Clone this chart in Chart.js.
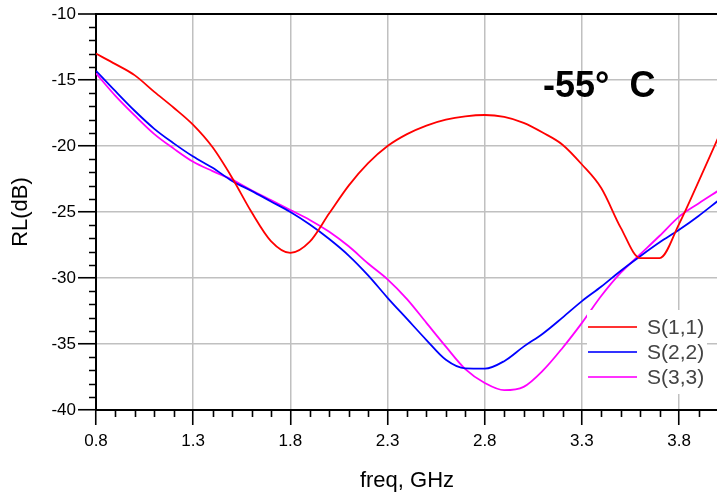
<!DOCTYPE html>
<html>
<head>
<meta charset="utf-8">
<script src="https://cdn.jsdelivr.net/npm/chart.js@4.4.1/dist/chart.umd.min.js"></script>
<style>
    html, body { margin: 0; padding: 0; background: #fff; overflow: hidden; }
    #wrap { width: 717px; height: 497px; overflow: hidden; }
</style>
</head>
<body>
<div id="wrap"><canvas id="rlChart" width="724" height="497"></canvas></div>
<script>
// --- data (freq in GHz, return loss in dB) ---
const freqs = [0.8, 0.9, 1.0, 1.1, 1.2, 1.3, 1.4, 1.5, 1.6, 1.7, 1.8, 1.9, 2.0, 2.1, 2.2, 2.3, 2.4,
               2.5, 2.6, 2.7, 2.8, 2.9, 3.0, 3.1, 3.2, 3.3, 3.4, 3.5, 3.6, 3.7, 3.8, 3.9, 4.0];
const s11 = [-13.0, -13.8, -14.65, -15.9, -17.1, -18.4, -20.1, -22.4, -25.0, -27.2, -28.1, -27.25, -25.1,
             -23.0, -21.3, -20.0, -19.1, -18.45, -18.0, -17.75, -17.65, -17.8, -18.25, -19.0, -19.9,
             -21.4, -23.2, -26.2, -28.5, -28.5, -25.9, -22.7, -19.4];
const s22 = [-14.3, -15.85, -17.35, -18.7, -19.8, -20.8, -21.65, -22.65, -23.4, -24.2, -25.0, -25.95, -27.05,
             -28.3, -29.8, -31.5, -33.1, -34.7, -36.2, -36.85, -36.87, -36.3, -35.2, -34.2, -33.0,
             -31.75, -30.65, -29.45, -28.35, -27.3, -26.35, -25.3, -24.15];
const s33 = [-14.5, -16.2, -17.7, -19.1, -20.2, -21.2, -21.9, -22.55, -23.35, -24.1, -24.85, -25.6, -26.5,
             -27.6, -28.9, -30.1, -31.6, -33.4, -35.2, -36.9, -37.95, -38.5, -38.25, -37.0, -35.3,
             -33.4, -31.35, -29.6, -28.2, -26.8, -25.35, -24.35, -23.4];
const seriesLabels = ['S(1,1)', 'S(2,2)', 'S(3,3)'];
const seriesColors = ['#ff0000', '#0000ff', '#ff00ff'];
const xMajorTicks = [0.8, 1.3, 1.8, 2.3, 2.8, 3.3, 3.8];
const yMajorTicks = [-40, -35, -30, -25, -20, -15, -10];

const FONT = "'Liberation Sans', Arial, sans-serif";

function isMajor(v, list) {
    return list.some(m => Math.abs(m - v) < 1e-6);
}

function points(ys) {
    return freqs.map((f, i) => ({ x: f, y: ys[i] }));
}

// short minor tick marks (Chart.js has one tick length per axis)
const minorTicks = {
    id: 'minorTicks',
    afterDraw(chart) {
        const { ctx, scales: { x, y } } = chart;
        ctx.save();
        ctx.strokeStyle = '#000';
        ctx.lineWidth = 1.6;
        ctx.beginPath();
        x.ticks.forEach(t => {
            if (isMajor(t.value, xMajorTicks)) return;
            const px = Math.round(x.getPixelForValue(t.value)) + 0.5;
            ctx.moveTo(px, x.top);
            ctx.lineTo(px, x.top + 7);
        });
        y.ticks.forEach(t => {
            if (isMajor(t.value, yMajorTicks)) return;
            const py = Math.round(y.getPixelForValue(t.value)) + 0.5;
            ctx.moveTo(y.right, py);
            ctx.lineTo(y.right - 7, py);
        });
        ctx.stroke();
        ctx.restore();
    }
};

// legend box in the lower right corner + temperature label
const overlay = {
    id: 'overlay',
    afterDatasetsDraw(chart) {
        const { ctx, chartArea } = chart;
        ctx.save();
        const bx = chartArea.right - 131;
        const by = chartArea.bottom - 100;
        ctx.fillStyle = '#fff';
        ctx.fillRect(bx, by, 120, 84);
        chart.data.datasets.forEach((ds, i) => {
            const ly = by + 17 + i * 25;
            ctx.strokeStyle = ds.borderColor;
            ctx.globalAlpha = 0.8;
            ctx.lineWidth = 2.2;
            ctx.beginPath();
            ctx.moveTo(bx + 1, ly);
            ctx.lineTo(bx + 50, ly);
            ctx.stroke();
            ctx.globalAlpha = 1;
            ctx.fillStyle = '#444';
            ctx.font = '21px ' + FONT;
            ctx.textBaseline = 'middle';
            ctx.fillText(ds.label, bx + 60, ly + 1);
        });
        ctx.fillStyle = '#000';
        ctx.font = 'bold 36px ' + FONT;
        ctx.textBaseline = 'alphabetic';
        ctx.fillText('-55°  C', 543, 97);
        ctx.restore();
    }
};

const ctx = document.getElementById('rlChart').getContext('2d');
new Chart(ctx, {
    type: 'line',
    data: {
        datasets: [s11, s22, s33].map((ys, i) => ({
            label: seriesLabels[i],
            data: points(ys),
            borderColor: seriesColors[i],
            borderWidth: 1.8,
            pointRadius: 0,
            fill: false,
            cubicInterpolationMode: 'monotone'
        }))
    },
    options: {
        responsive: false,
        animation: false,
        layout: { padding: { top: 14, right: 0, bottom: 0, left: 0 } },
        plugins: {
            legend: { display: false },
            tooltip: { enabled: false }
        },
        scales: {
            x: {
                type: 'linear',
                min: 0.8,
                max: 4.0,
                afterFit: s => { s.height = 87; },
                border: { color: '#000', width: 2 },
                grid: {
                    color: c => c.tick && isMajor(c.tick.value, xMajorTicks)
                        ? (Math.abs(c.tick.value - 0.8) < 1e-6 ? '#000' : '#c0c0c0') : 'rgba(0,0,0,0)',
                    lineWidth: 1.5,
                    tickLength: 15,
                    tickWidth: 1.6,
                    tickColor: c => c.tick && isMajor(c.tick.value, xMajorTicks) ? '#000' : 'rgba(0,0,0,0)'
                },
                ticks: {
                    stepSize: 0.1,
                    autoSkip: false,
                    maxRotation: 0,
                    padding: 6,
                    color: '#000',
                    font: { family: FONT, size: 17 },
                    callback: v => isMajor(v, xMajorTicks) ? v.toFixed(1) : ''
                },
                title: {
                    display: true,
                    text: 'freq, GHz',
                    color: '#000',
                    font: { family: FONT, size: 22 },
                    padding: { top: 0, bottom: 3 }
                }
            },
            y: {
                min: -40,
                max: -10,
                afterFit: s => { s.width = 96; },
                border: { color: '#000', width: 2 },
                grid: {
                    color: c => {
                        if (!c.tick || !isMajor(c.tick.value, yMajorTicks)) return 'rgba(0,0,0,0)';
                        if (c.tick.value === -10 || c.tick.value === -40) return '#000';
                        return '#c0c0c0';
                    },
                    lineWidth: c => c.tick && c.tick.value === -10 ? 2 : 1.5,
                    tickLength: 18,
                    tickWidth: 1.6,
                    tickColor: c => c.tick && isMajor(c.tick.value, yMajorTicks) ? '#000' : 'rgba(0,0,0,0)'
                },
                ticks: {
                    stepSize: 1,
                    autoSkip: false,
                    padding: 2,
                    color: '#000',
                    font: { family: FONT, size: 17 },
                    callback: v => isMajor(v, yMajorTicks) ? String(v) : ''
                },
                title: {
                    display: true,
                    text: 'RL(dB)',
                    color: '#000',
                    font: { family: FONT, size: 22 },
                    padding: { top: 8, bottom: 0 }
                }
            }
        }
    },
    plugins: [minorTicks, overlay]
});
</script>
</body>
</html>
